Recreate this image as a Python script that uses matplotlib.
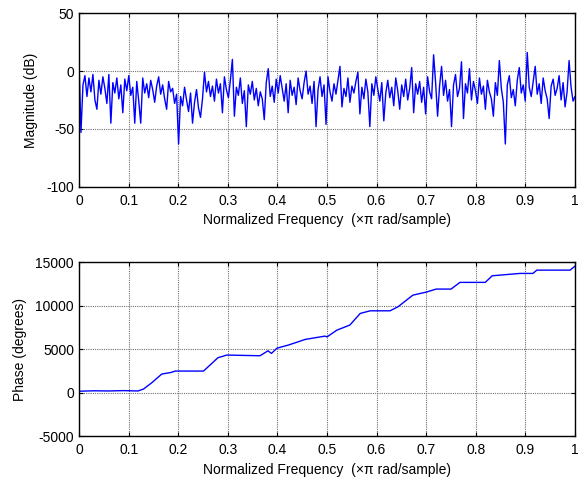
import numpy as np
import matplotlib.pyplot as plt

plt.rcParams['font.family'] = ['Liberation Sans', 'DejaVu Sans']
plt.rcParams['axes.unicode_minus'] = False

# magnitude response (dB), evenly spaced over 0..1 normalized frequency
mag_db = [
    9, -53, -12, -4, -22, -6, -18, -3, -25, -33,
    -8, -20, -5, -15, -28, -3, -45, -10, -19, -6,
    -24, -12, -36, -7, -17, -4, -21, -14, -45, -9,
    -26, -45, -6, -19, -11, -23, -8, -16, -27, -13,
    -5, -20, -12, -24, -33, -9, -18, -15, -28, -20,
    -63, -22, -30, -14, -25, -35, -19, -45, -27, -16,
    -32, -40, -24, -1, -18, -9, -22, -13, -26, -7,
    -19, -11, -36, -5, -16, -23, -8, 10, -39, -14,
    -21, -6, -28, -17, -48, -12, -20, -9, -25, -15,
    -30, -18, -24, -42, -10, 2, -22, -13, -27, -7,
    -19, -4, -15, -26, -11, -36, -8, -21, -14, -29,
    -6, -17, -24, -10, 0, -20, -13, -28, -9, -48,
    -16, -5, -22, -12, -46, -5, -18, -26, -11, -20,
    -8, 4, -31, -15, -22, -6, -27, -13, -19, -9,
    -1, -37, -14, -24, -7, -18, -48, -11, -21, -5,
    -16, -26, -10, -43, -19, -8, -23, -14, -30, -6,
    -17, -33, -12, -22, -7, -25, -15, 3, -36, -11,
    -20, -9, -27, -14, -37, -5, -18, -24, 14, -10,
    -39, -13, 4, -21, -8, -26, -16, -48, -12, -3,
    -22, -15, 8, -41, -11, -19, 2, -25, -9, -17,
    -28, -6, -20, -13, -33, -8, -18, -24, -39, -10,
    -21, 9, -15, -27, -63, -12, -4, -23, -16, -30,
    -8, 3, -19, -12, -26, 16, -14, -22, -9, 4,
    -20, -11, -28, -6, -17, -24, -41, -13, -7, -21,
    -15, -4, -25, -10, -31, -18, 9, -14, -26, -22,
]

# phase response (degrees), read at points along the curve
phase_f = [0, 0.03, 0.06, 0.09, 0.119, 0.13, 0.146, 0.167, 0.185, 0.194,
           0.251, 0.265, 0.28, 0.298, 0.365, 0.381, 0.388, 0.399, 0.422, 0.44,
           0.456, 0.496, 0.50, 0.52, 0.546, 0.567, 0.587, 0.627, 0.643, 0.673,
           0.70, 0.72, 0.75, 0.768, 0.819, 0.833, 0.889, 0.915, 0.923, 0.99, 1.0]
phase_deg = [150, 200, 180, 220, 180, 400, 1090, 2130, 2300, 2470,
             2470, 3200, 4000, 4310, 4230, 4800, 4500, 5100, 5460, 5800,
             6110, 6490, 6400, 7180, 7760, 9100, 9400, 9400, 9860, 11200,
             11550, 11900, 11900, 12670, 12670, 13430, 13700, 13700, 14080, 14080, 14540]

xticks = np.arange(0, 1.01, 0.1)
xlab = 'Normalized Frequency  (\u00d7\u03c0 rad/sample)'

fig = plt.figure(figsize=(5.85, 4.83), dpi=100)
ax1 = fig.add_axes([0.135, 0.613, 0.848, 0.36])
ax2 = fig.add_axes([0.135, 0.0973, 0.848, 0.36])

freq = np.linspace(0, 1, len(mag_db))
ax1.plot(freq, mag_db, color='blue', lw=1)
ax1.set_ylim(-100, 50)
ax1.set_yticks([-100, -50, 0, 50])
ax1.set_ylabel('Magnitude (dB)', labelpad=6)

ax2.plot(phase_f, phase_deg, color='blue', lw=1)
ax2.set_ylim(-5000, 15000)
ax2.set_yticks([-5000, 0, 5000, 10000, 15000])
ax2.set_ylabel('Phase (degrees)', labelpad=6)

for ax in (ax1, ax2):
    ax.set_xlim(0, 1)
    ax.set_xticks(xticks)
    ax.set_xticklabels(['0'] + ['%.1f' % t for t in xticks[1:-1]] + ['1'])
    ax.set_xlabel(xlab, labelpad=4)
    ax.grid(True, color='#707070', ls=(0, (1, 1)), lw=0.8)
    ax.tick_params(direction='in', top=True, right=True, length=3, labelsize=10)
    ax.tick_params(axis='x', pad=5)
    for s in ax.spines.values():
        s.set_linewidth(1)
    ax.xaxis.label.set_size(10)
    ax.yaxis.label.set_size(10)

plt.savefig('out.png')
